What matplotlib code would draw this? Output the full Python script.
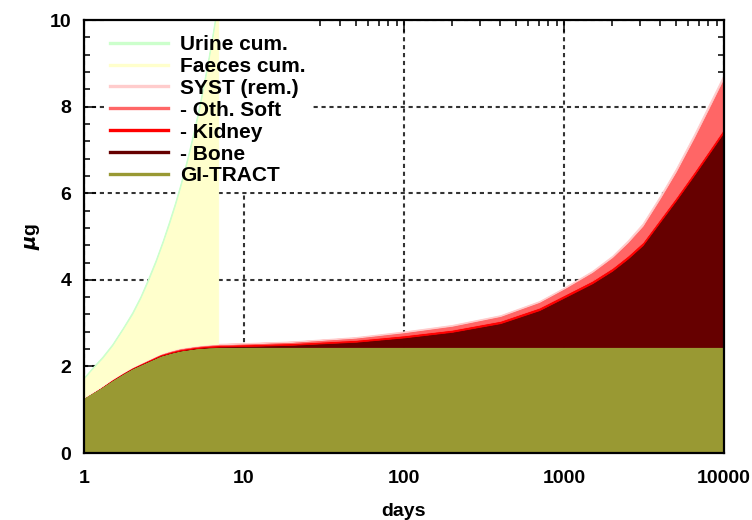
import numpy as np
import matplotlib
matplotlib.use("Agg")
import matplotlib.pyplot as plt
from matplotlib.patches import Rectangle
from matplotlib.ticker import MultipleLocator, LogLocator, NullFormatter

plt.rcParams['font.family'] = ['Liberation Sans', 'DejaVu Sans']
plt.rcParams['font.weight'] = 'bold'
plt.rcParams['mathtext.default'] = 'it'

# retained amount in body compartments (ug), stacked bottom to top
days = [1, 1.25, 1.5, 1.75, 2, 2.5, 3, 3.5, 4, 5, 6, 7, 10, 20, 50, 100, 200,
        400, 700, 1000, 1500, 2000, 2500, 3100, 4000, 5000, 6500, 8000, 10000]
gi_tract = [1.29, 1.50, 1.69, 1.84, 1.96, 2.12, 2.25, 2.32, 2.37, 2.42, 2.44,
            2.45, 2.45, 2.45, 2.45, 2.45, 2.45, 2.45, 2.45, 2.45, 2.45, 2.45,
            2.45, 2.45, 2.45, 2.45, 2.45, 2.45, 2.45]
bone = [0, 0, 0, 0, 0, 0, 0, 0, 0, 0.003, 0.006, 0.01, 0.02, 0.05, 0.12, 0.22,
        0.35, 0.55, 0.85, 1.14, 1.47, 1.76, 2.04, 2.35, 2.90, 3.38, 3.97, 4.45,
        4.97]
kidney = [0, 0.005, 0.01, 0.012, 0.015, 0.02, 0.025, 0.028, 0.03, 0.03, 0.035,
          0.035, 0.04, 0.04, 0.045, 0.05, 0.05, 0.055, 0.06, 0.06, 0.062, 0.065,
          0.068, 0.07, 0.07, 0.072, 0.075, 0.078, 0.08]
oth_soft = [0, 0.005, 0.01, 0.01, 0.01, 0.015, 0.015, 0.018, 0.02, 0.02, 0.02,
            0.02, 0.02, 0.03, 0.05, 0.07, 0.09, 0.11, 0.13, 0.15, 0.20, 0.25,
            0.31, 0.38, 0.48, 0.60, 0.80, 0.98, 1.18]
syst_rem = [0, 0, 0.005, 0.005, 0.005, 0.005, 0.01, 0.01, 0.01, 0.01, 0.01,
            0.01, 0.01, 0.01, 0.015, 0.02, 0.02, 0.02, 0.02, 0.02, 0.025, 0.03,
            0.04, 0.05, 0.05, 0.06, 0.065, 0.07, 0.07]

# cumulative excretion, first week only
exc_days = [1, 1.15, 1.3, 1.5, 1.75, 2.0, 2.25, 2.5, 2.8, 3.1, 3.4, 3.7, 4.0,
            4.4, 4.8, 5.2, 5.6, 6.0, 6.4, 6.9]
faeces = [0.44, 0.56, 0.64, 0.77, 1.00, 1.22, 1.50, 1.80, 2.16, 2.54, 2.93,
          3.32, 3.72, 4.27, 4.83, 5.38, 5.97, 6.56, 7.15, 7.89]
urine = [0.02, 0.02, 0.03, 0.03, 0.03, 0.04, 0.04, 0.05, 0.05, 0.05, 0.06,
         0.06, 0.06, 0.07, 0.07, 0.08, 0.08, 0.08, 0.09, 0.09]

body_layers = [
    ('GI-TRACT', gi_tract, '#999933'),
    ('- Bone', bone, '#660000'),
    ('- Kidney', kidney, '#ff0000'),
    ('- Oth. Soft', oth_soft, '#ff6666'),
    ('SYST (rem.)', syst_rem, '#ffcccc'),
]
exc_layers = [
    ('Faeces cum.', faeces, '#ffffcc'),
    ('Urine cum.', urine, '#ccffcc'),
]

fig = plt.figure(figsize=(7.52, 5.20), dpi=100)
ax = fig.add_axes([0.1117, 0.1288, 0.851, 0.8327])
ax.set_xscale('log')

handles = {}
base = np.zeros(len(days))
for label, vals, color in body_layers:
    top = base + np.array(vals)
    ax.fill_between(days, base, top, facecolor=color, edgecolor=color,
                    linewidth=0.6, zorder=3)
    handles[label], = ax.plot([], [], color=color, lw=2.4)
    base = top

ebase = np.interp(np.log(exc_days), np.log(days), base)
for label, vals, color in exc_layers:
    top = ebase + np.array(vals)
    ax.fill_between(exc_days, ebase, top, facecolor=color, edgecolor=color,
                    linewidth=0.6, zorder=3)
    handles[label], = ax.plot([], [], color=color, lw=2.4)
    ebase = top

order = ['Urine cum.', 'Faeces cum.', 'SYST (rem.)', '- Oth. Soft',
         '- Kidney', '- Bone', 'GI-TRACT']
leg = ax.legend([handles[k] for k in order], order, loc='upper left',
                bbox_to_anchor=(0.031, 0.98), borderaxespad=0,
                fontsize=15, frameon=False, handlelength=2.8,
                handletextpad=0.55, labelspacing=0.14, borderpad=0.3)
leg.set_zorder(6)

ax.set_xlim(1, 10000)
ax.set_ylim(0, 10)
ax.set_xticks([1, 10, 100, 1000, 10000])
ax.set_xticklabels(['1', '10', '100', '1000', '10000'])
ax.xaxis.set_minor_locator(LogLocator(base=10, subs=np.arange(2, 10)))
ax.xaxis.set_minor_formatter(NullFormatter())
ax.yaxis.set_major_locator(MultipleLocator(2))
ax.yaxis.set_minor_locator(MultipleLocator(0.4))

ax.tick_params(which='both', direction='in', top=True, right=True,
               labelsize=14, width=1.1)
ax.tick_params(which='major', length=8.5)
ax.tick_params(which='minor', length=4)
ax.tick_params(axis='x', pad=12)
ax.tick_params(axis='y', pad=9)

ax.set_axisbelow(True)
ax.grid(which='major', color='#333333', linestyle=(0, (2, 1.8)), linewidth=1.5,
        zorder=1)
for sp in ax.spines.values():
    sp.set_linewidth(1.6)
    sp.set_zorder(5)

ax.set_xlabel('days', fontsize=14, fontweight='bold', labelpad=12)
ax.set_ylabel(r'$\mu$g', fontsize=14, fontweight='bold', labelpad=6)

# white box behind the legend hides the grid but not the filled areas
fig.canvas.draw()
bb = leg.get_window_extent().transformed(ax.transAxes.inverted())
ax.add_patch(Rectangle((bb.x0, bb.y0), bb.width, 1 - bb.y0,
                       transform=ax.transAxes, facecolor='white',
                       edgecolor='none', zorder=2))

fig.savefig('out.png', dpi=100)
